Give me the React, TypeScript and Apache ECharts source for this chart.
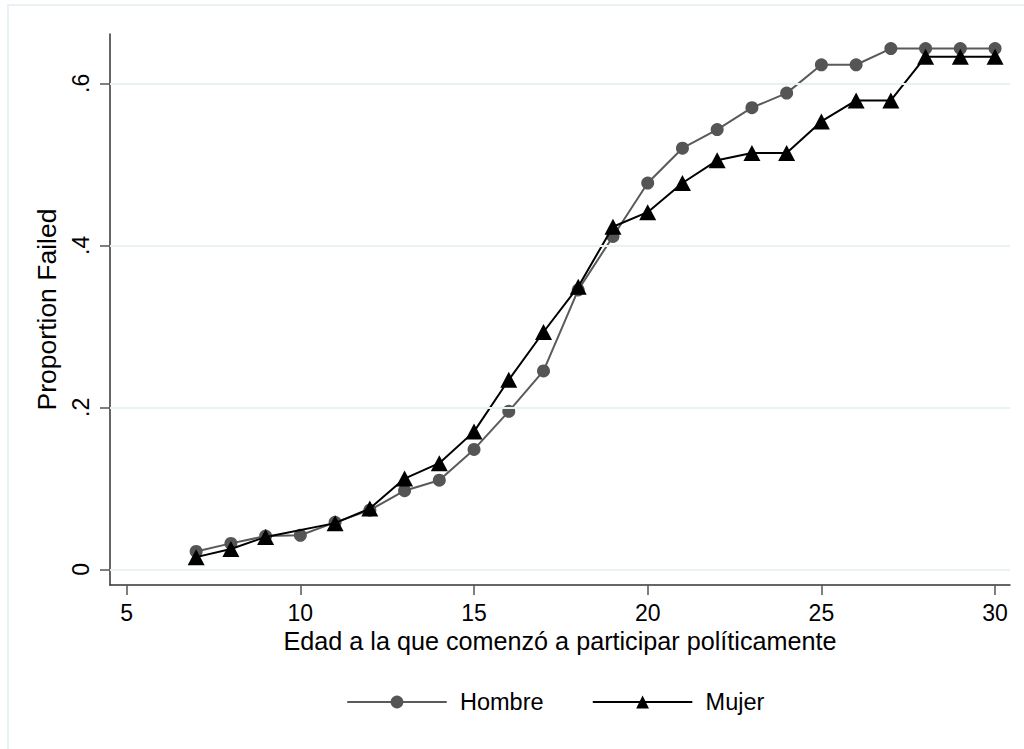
import React, { useEffect, useRef } from "react";
import * as echarts from "echarts";

// Age at which political participation began
const ages = [7, 8, 9, 10, 11, 12, 13, 14, 15, 16, 17, 18, 19, 20, 21, 22, 23, 24, 25, 26, 27, 28, 29, 30];

// Cumulative proportion failed by group
const hombre = [0.022, 0.032, 0.041, 0.042, 0.058, 0.073, 0.097, 0.110, 0.148, 0.195, 0.245, 0.345, 0.411, 0.477, 0.520, 0.543, 0.570, 0.588, 0.623, 0.623, 0.643, 0.643, 0.643, 0.643];
const mujer = [0.015, 0.025, 0.040, null, 0.057, 0.075, 0.112, 0.131, 0.170, 0.234, 0.293, 0.349, 0.423, 0.441, 0.477, 0.505, 0.514, 0.514, 0.553, 0.579, 0.579, 0.633, 0.633, 0.633];

// Tick labels
const xTicks = [5, 10, 15, 20, 25, 30];
const yTicks = [0, 0.2, 0.4, 0.6];
const yTickText = ["0", ".2", ".4", ".6"];

const FONT = "'Liberation Sans', Arial, sans-serif";
const GRID_COLOR = "#E8F1F3";

export default function App() {
  const ref = useRef<HTMLDivElement>(null);

  useEffect(() => {
    if (!ref.current) return;
    const chart = echarts.init(ref.current, null, { renderer: "svg" });

    const pairs = (vals: (number | null)[]) => ages.map((a, i) => [a, vals[i]]);

    chart.setOption({
      animation: false,
      backgroundColor: "#ffffff",
      textStyle: { fontFamily: FONT, color: "#000" },
      graphic: [
        {
          type: "rect",
          shape: { x: 8, y: 5, width: 1040, height: 780 },
          style: { fill: "none", stroke: GRID_COLOR, lineWidth: 2 },
          silent: true,
        },
      ],
      grid: { left: 110, right: 14, top: 34, bottom: 164, containLabel: false },
      xAxis: {
        type: "value",
        min: 4.52,
        max: 30.43,
        name: "Edad a la que comenzó a participar políticamente",
        nameLocation: "middle",
        nameGap: 42,
        nameTextStyle: { fontSize: 25.2, color: "#000", fontFamily: FONT },
        axisLine: { show: true, onZero: false, lineStyle: { color: "#333", width: 1.5 } },
        axisTick: { show: true, length: 10, customValues: xTicks, lineStyle: { color: "#555", width: 1.5 } },
        axisLabel: { customValues: xTicks, fontSize: 23, color: "#000", margin: 16, fontFamily: FONT },
        splitLine: { show: false },
      },
      yAxis: {
        type: "value",
        min: -0.0194,
        max: 0.661,
        name: "Proportion Failed",
        nameLocation: "middle",
        nameRotate: 90,
        nameGap: 50,
        nameTextStyle: { fontSize: 26.5, color: "#000", fontFamily: FONT },
        axisLine: { show: true, onZero: false, lineStyle: { color: "#333", width: 1.5 } },
        axisTick: { show: true, length: 10, customValues: yTicks, lineStyle: { color: "#555", width: 1.5 } },
        axisLabel: {
          customValues: yTicks,
          rotate: 90,
          fontSize: 23,
          color: "#000",
          margin: 18,
          fontFamily: FONT,
          formatter: (v: number) => {
            const i = yTicks.findIndex((t) => Math.abs(t - v) < 1e-9);
            return i >= 0 ? yTickText[i] : "";
          },
        },
        splitLine: { show: false },
      },
      legend: {
        data: ["Hombre", "Mujer"],
        left: 342,
        top: 685,
        itemWidth: 98,
        itemHeight: 16,
        itemGap: 49,
        textStyle: { fontSize: 23.5, color: "#000", fontFamily: FONT, padding: [0, 0, 0, 9] },
      },
      series: [
        {
          name: "grid",
          type: "line",
          data: [],
          silent: true,
          z: 0,
          markLine: {
            silent: true,
            symbol: "none",
            label: { show: false },
            lineStyle: { color: GRID_COLOR, width: 2, type: "solid" },
            data: yTicks.map((t) => ({ yAxis: t })),
          },
        },
        {
          name: "Hombre",
          type: "line",
          data: pairs(hombre),
          symbol: "circle",
          symbolSize: 13,
          z: 3,
          lineStyle: { color: "#5a5a5a", width: 2, join: "round", cap: "round" },
          itemStyle: { color: "#555555", borderWidth: 0 },
        },
        {
          name: "Mujer",
          type: "line",
          data: pairs(mujer),
          connectNulls: true,
          symbol: "triangle",
          symbolSize: [17, 16],
          z: 4,
          lineStyle: { color: "#000000", width: 2, join: "round", cap: "round" },
          itemStyle: { color: "#000000", borderWidth: 0 },
        },
      ],
    });

    return () => chart.dispose();
  }, []);

  return (
    <div
      ref={ref}
      style={{ position: "fixed", left: 0, top: 0, width: 1024, height: 749 }}
    />
  );
}
